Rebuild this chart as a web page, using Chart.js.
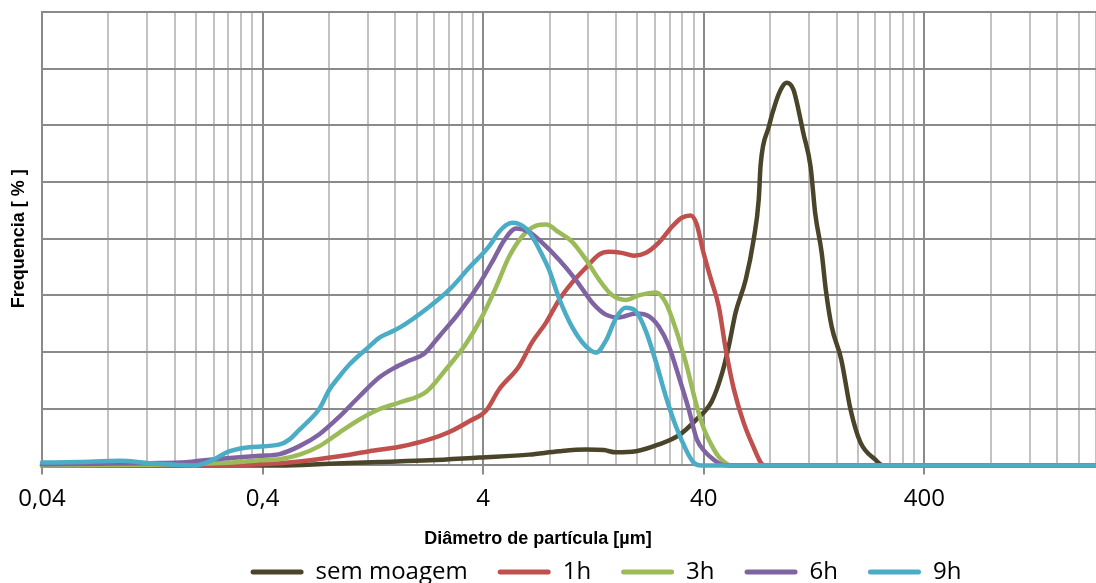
<!DOCTYPE html>
<html><head><meta charset="utf-8">
<script src="https://cdn.jsdelivr.net/npm/chart.js@4/dist/chart.umd.min.js"></script>
<style>html,body{margin:0;padding:0;background:#fff;overflow:hidden}canvas{display:block}</style>
</head><body>
<canvas id="c" width="1096" height="583"></canvas>
<script>
// ---- data (particle diameter in µm, frequency in %) ----
const seriesNames = ['sem moagem', '1h', '3h', '6h', '9h'];
const seriesColors = ['#4a452a', '#c0504d', '#9bbb59', '#8064a2', '#4bacc6'];

const sizesSemMoagem = [0.04, 0.478, 0.804, 1.35, 2.28, 3.84, 6.46, 8.83, 11.7, 14.1, 16.0, 19.7, 25.0, 30.8, 36.8, 43.5, 48.2, 51.9, 55.8, 62.0, 67.3, 71.0, 72.4, 78.8, 84.7, 90.2, 95.0, 102, 105, 113, 122, 128, 137, 143, 152, 168, 185, 205, 240, 260, 2400];
const valuesSemMoagem = [0, 0, 0.03, 0.06, 0.09, 0.14, 0.19, 0.25, 0.28, 0.27, 0.23, 0.25, 0.37, 0.53, 0.80, 1.13, 1.60, 2.10, 2.70, 3.28, 3.98, 4.69, 5.30, 5.97, 6.40, 6.66, 6.75, 6.63, 6.45, 5.87, 5.27, 4.45, 3.75, 3.10, 2.45, 1.87, 0.99, 0.41, 0.10, 0, 0];

const sizes1h = [0.04, 0.207, 0.388, 0.588, 0.892, 1.22, 1.67, 2.28, 2.81, 3.46, 4.13, 4.72, 5.82, 6.66, 7.71, 8.83, 10.1, 11.7, 13.4, 14.9, 17.0, 19.3, 21.9, 25.0, 28.7, 31.8, 34.9, 37.2, 39.6, 43.0, 46.8, 50.3, 54.7, 60.7, 67.3, 73.2, 77.1, 2400];
const values1h = [0, 0, 0.02, 0.07, 0.16, 0.25, 0.33, 0.46, 0.59, 0.78, 0.97, 1.34, 1.75, 2.17, 2.52, 2.92, 3.22, 3.49, 3.72, 3.77, 3.75, 3.70, 3.75, 3.93, 4.21, 4.37, 4.41, 4.25, 3.80, 3.30, 2.80, 2.05, 1.35, 0.75, 0.32, 0.03, 0, 0];

const sizes3h = [0.04, 0.123, 0.207, 0.293, 0.388, 0.478, 0.588, 0.724, 0.892, 1.10, 1.35, 1.67, 2.21, 2.72, 3.35, 3.96, 4.58, 5.24, 6.01, 6.95, 7.71, 8.83, 10.1, 11.7, 13.4, 15.3, 17.7, 20.3, 24.3, 26.9, 29.9, 33.2, 36.8, 40.0, 43.5, 46.8, 50.3, 53.0, 2400];
const values3h = [0, 0.01, 0.03, 0.05, 0.09, 0.11, 0.19, 0.34, 0.58, 0.81, 0.99, 1.11, 1.30, 1.70, 2.15, 2.63, 3.15, 3.68, 4.04, 4.23, 4.25, 4.11, 3.95, 3.63, 3.28, 3.01, 2.92, 3.00, 3.05, 2.87, 2.40, 1.81, 1.11, 0.65, 0.35, 0.15, 0.04, 0, 0];

const sizes6h = [0.04, 0.073, 0.123, 0.168, 0.207, 0.284, 0.388, 0.478, 0.588, 0.724, 0.892, 1.10, 1.35, 1.58, 1.85, 2.16, 2.53, 3.12, 3.84, 4.48, 4.98, 5.64, 6.46, 7.40, 8.83, 10.5, 12.5, 14.4, 16.5, 19.7, 22.6, 25.0, 27.8, 30.8, 34.2, 37.2, 40.8, 44.4, 47.8, 51.9, 2400];
const values6h = [0.02, 0.03, 0.04, 0.05, 0.08, 0.13, 0.17, 0.20, 0.34, 0.55, 0.86, 1.22, 1.55, 1.72, 1.85, 1.97, 2.28, 2.70, 3.20, 3.65, 3.97, 4.18, 4.12, 3.93, 3.63, 3.28, 2.87, 2.66, 2.61, 2.68, 2.63, 2.45, 2.10, 1.57, 0.99, 0.46, 0.23, 0.10, 0.02, 0, 0];

const sizes9h = [0.04, 0.059, 0.090, 0.123, 0.160, 0.197, 0.230, 0.284, 0.349, 0.478, 0.530, 0.588, 0.653, 0.724, 0.804, 0.892, 0.990, 1.22, 1.35, 1.50, 1.67, 2.28, 2.81, 3.46, 4.26, 4.72, 5.08, 5.41, 5.82, 6.26, 6.81, 7.32, 7.96, 8.83, 10.1, 11.7, 13.0, 14.4, 16.0, 17.7, 19.7, 21.9, 24.3, 26.9, 29.9, 33.2, 36.0, 38.8, 2400];
const values9h = [0.05, 0.06, 0.08, 0.04, 0.01, 0, 0.07, 0.25, 0.32, 0.37, 0.46, 0.63, 0.80, 1.00, 1.34, 1.57, 1.78, 2.10, 2.25, 2.34, 2.43, 2.80, 3.10, 3.49, 3.87, 4.12, 4.24, 4.28, 4.26, 4.18, 3.98, 3.75, 3.45, 2.95, 2.45, 2.10, 1.99, 2.20, 2.60, 2.78, 2.72, 2.36, 1.82, 1.22, 0.69, 0.28, 0.05, 0, 0];

const seriesSizes = [sizesSemMoagem, sizes1h, sizes3h, sizes6h, sizes9h];
const seriesValues = [valuesSemMoagem, values1h, values3h, values6h, values9h];

// ---- axes ----
const majorTicks = [0.04, 0.4, 4, 40, 400];
const majorTickLabels = ['0,04', '0,4', '4', '40', '400'];
const minorMultiples = [2, 3, 4, 5, 6, 7, 8, 9];
const xMin = 0.04, xMax = 2400;
const yMin = 0, yMax = 8, yStep = 1;
const xTitle = 'Diâmetro de partícula [µm]';
const yTitle = 'Frequencia [ % ]';

const gridDark = '#8a8a8a';
const gridLight = '#c2c2c2';

const datasets = seriesNames.map((name, i) => ({
  label: name,
  data: seriesSizes[i].map((s, j) => ({x: s, y: seriesValues[i][j]})),
  borderColor: seriesColors[i],
  backgroundColor: seriesColors[i],
  borderWidth: 4.5,
  pointRadius: 0,
  fill: false,
  cubicInterpolationMode: 'monotone',
  borderCapStyle: 'round',
  borderJoinStyle: 'round',
  order: seriesNames.length - 1 - i,
  clip: {left: 4, top: 4, right: 0, bottom: 4}
}));

const shiftBoxes = {
  id: 'shiftBoxes',
  afterLayout(chart) {
    const l = chart.legend;
    if (l) { l.left += 58; l.right += 58; }
    const t = chart.titleBlock;
    if (t) { t.left -= 10; t.right -= 10; }
  }
};

new Chart(document.getElementById('c'), {
  type: 'line',
  data: {datasets},
  plugins: [shiftBoxes],
  options: {
    responsive: false,
    animation: false,
    events: [],
    layout: {padding: {top: 12, right: 0, bottom: -11, left: 0}},
    plugins: {
      tooltip: {enabled: false},
      title: {
        display: true, position: 'bottom', text: xTitle, color: '#000', weight: 2000,
        font: {family: 'Liberation Sans', size: 18, weight: 'bold'},
        padding: {top: 3.8, bottom: -19.8}
      },
      legend: {
        position: 'bottom', weight: 3000,
        labels: {
          boxWidth: 53, boxHeight: 5, padding: 30, color: '#000',
          font: {family: 'Open Sans', size: 24},
          useBorderRadius: true, borderRadius: 2.5,
          sort: (a, b) => a.datasetIndex - b.datasetIndex,
          generateLabels: (chart) => Chart.defaults.plugins.legend.labels.generateLabels(chart)
            .map(l => Object.assign(l, {lineWidth: 0, strokeStyle: l.fillStyle}))
        }
      }
    },
    scales: {
      x: {
        type: 'logarithmic', min: xMin, max: xMax,
        afterBuildTicks: (scale) => {
          const t = [];
          majorTicks.forEach((m, i) => {
            t.push({value: m, decade: true, text: majorTickLabels[i]});
            minorMultiples.forEach(k => {
              const v = m * k;
              if (v <= xMax * 1.0001) t.push({value: v, decade: false, text: ''});
            });
          });
          scale.ticks = t;
        },
        ticks: {
          autoSkip: false, maxRotation: 0, minRotation: 0, padding: 0, color: '#000',
          font: {family: 'Open Sans', size: 24, lineHeight: 50 / 24},
          callback: (value, index, ticks) => ticks[index].text
        },
        grid: {
          color: (ctx) => (ctx.tick && ctx.tick.decade) ? gridDark : gridLight,
          tickColor: (ctx) => (ctx.tick && ctx.tick.decade) ? gridDark : 'rgba(0,0,0,0)',
          lineWidth: 2, tickLength: 9, drawTicks: true
        },
        border: {color: gridDark, width: 2},
        title: {display: false}
      },
      y: {
        min: yMin, max: yMax,
        ticks: {display: false, stepSize: yStep},
        grid: {color: gridDark, lineWidth: 2, drawTicks: false},
        border: {color: gridDark, width: 2},
        title: {
          display: true, text: yTitle, color: '#000',
          font: {family: 'Liberation Sans', size: 18, weight: 'bold'},
          padding: {top: 8.2, bottom: 12.2}
        }
      }
    }
  }
});
</script>
</body></html>
